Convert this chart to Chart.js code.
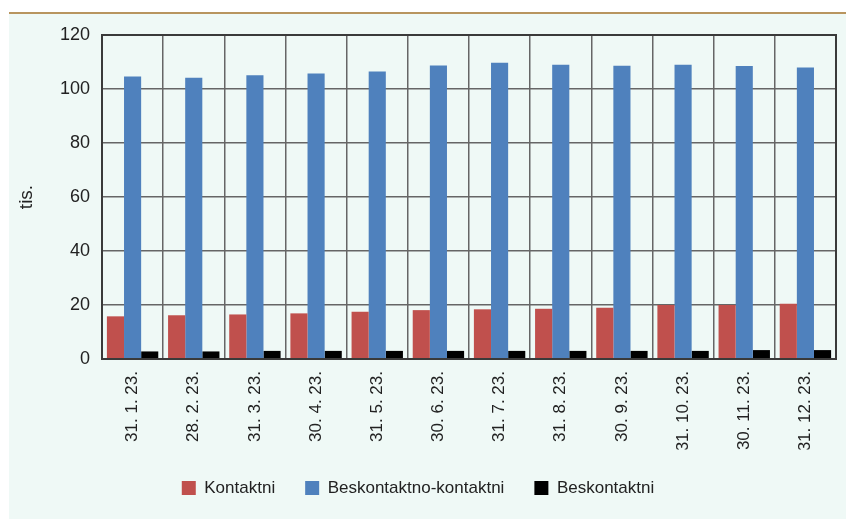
<!DOCTYPE html>
<html>
<head>
<meta charset="utf-8">
<script src="https://cdn.jsdelivr.net/npm/chart.js@4/dist/chart.umd.min.js"></script>
<style>
  html, body { margin: 0; padding: 0; background: #ffffff; }
  #wrap { position: relative; width: 846px; height: 519px; overflow: hidden; }
  #panel { position: absolute; left: 9px; top: 12px; width: 837px; height: 505px; background: #eff9f6; border-top: 2px solid #b8955f; }
  #c { position: absolute; left: 0; top: 0; }
</style>
</head>
<body>
<div id="wrap">
  <div id="panel"></div>
  <canvas id="c" width="846" height="519"></canvas>
</div>
<script>
const categories = ['31. 1. 23.', '28. 2. 23.', '31. 3. 23.', '30. 4. 23.', '31. 5. 23.', '30. 6. 23.',
                    '31. 7. 23.', '31. 8. 23.', '30. 9. 23.', '31. 10. 23.', '30. 11. 23.', '31. 12. 23.'];
const kontaktni = [15.8, 16.2, 16.5, 16.9, 17.5, 18.1, 18.4, 18.6, 19.0, 20.0, 20.0, 20.5];
const beskontaktnoKontaktni = [104.6, 104.2, 105.1, 105.7, 106.5, 108.75, 109.7, 109.0, 108.6, 109.0, 108.5, 108.0];
const beskontaktni = [2.8, 2.8, 3.0, 3.0, 3.0, 3.0, 3.0, 3.0, 3.0, 3.0, 3.3, 3.3];
const seriesNames = ['Kontaktni', 'Beskontaktno-kontaktni', 'Beskontaktni'];
const yTicks = [0, 20, 40, 60, 80, 100, 120];

const FONT = "'Liberation Sans', Arial, sans-serif";

const plotBorder = {
  id: 'plotBorder',
  afterDraw(chart) {
    const {ctx, chartArea: a} = chart;
    ctx.save();
    ctx.strokeStyle = '#3a3a3a';
    ctx.lineWidth = 2;
    ctx.strokeRect(a.left, a.top, a.right - a.left, a.bottom - a.top);
    ctx.restore();
  }
};

new Chart(document.getElementById('c'), {
  type: 'bar',
  data: {
    labels: categories,
    datasets: [
      { label: seriesNames[0], data: kontaktni, backgroundColor: '#c0504d', borderWidth: 0 },
      { label: seriesNames[1], data: beskontaktnoKontaktni, backgroundColor: '#4f81bd', borderWidth: 0 },
      { label: seriesNames[2], data: beskontaktni, backgroundColor: '#000000', borderWidth: 0 }
    ]
  },
  options: {
    responsive: false,
    animation: false,
    devicePixelRatio: 1,
    datasets: { bar: { barPercentage: 1.0, categoryPercentage: 0.84 } },
    layout: { padding: { left: 0, right: 10, top: 35, bottom: 12.5 } },
    plugins: {
      legend: {
        position: 'bottom',
        labels: {
          boxWidth: 14, boxHeight: 14, padding: 30,
          color: '#222222',
          font: { family: FONT, size: 17 }
        }
      },
      tooltip: { enabled: false }
    },
    scales: {
      x: {
        grid: { display: true, offset: true, color: '#666666', lineWidth: 1.5, drawTicks: false },
        border: { display: false },
        ticks: {
          minRotation: 90, maxRotation: 90, padding: 12,
          color: '#222222',
          font: { family: FONT, size: 17 }
        },
        afterFit(scale) { scale.height = 90.5; }
      },
      y: {
        min: 0, max: 120,
        afterBuildTicks(scale) { scale.ticks = yTicks.map(v => ({ value: v })); },
        grid: { color: '#666666', lineWidth: 1.5, drawTicks: false },
        border: { display: false },
        ticks: {
          padding: 12,
          color: '#222222',
          font: { family: FONT, size: 18 }
        },
        title: {
          display: true, text: 'tis.',
          color: '#222222',
          font: { family: FONT, size: 19 },
          padding: { top: 15, bottom: 0 }
        },
        afterFit(scale) { scale.width = 102; }
      }
    }
  },
  plugins: [plotBorder]
});
</script>
</body>
</html>
